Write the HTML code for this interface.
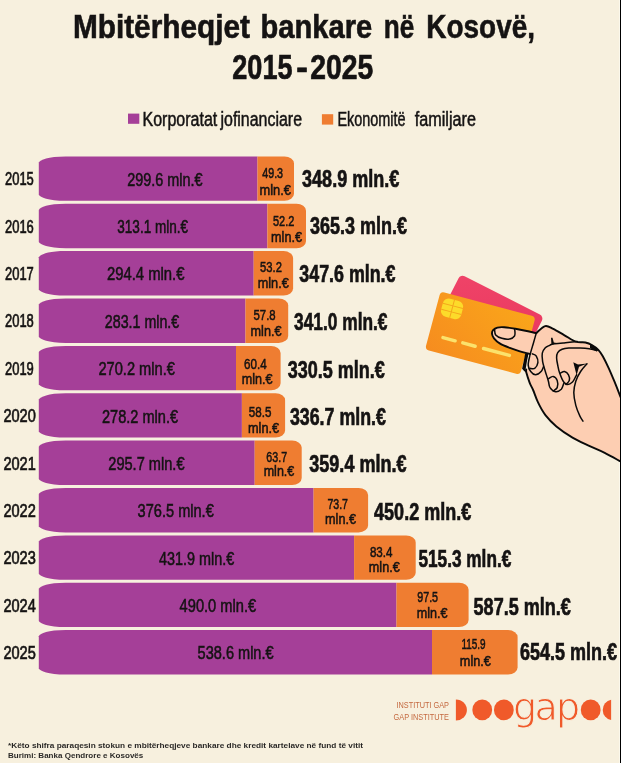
<!DOCTYPE html>
<html lang="sq"><head><meta charset="utf-8"><title>Mbitërheqjet bankare në Kosovë, 2015-2025</title>
<style>
html,body{margin:0;padding:0;background:#f7f0de;}
body{width:621px;height:763px;overflow:hidden;}
svg{display:block;}
text{font-family:"Liberation Sans",sans-serif;fill:#151313;}
.b{font-weight:700;}
</style></head><body>
<svg width="621" height="763" viewBox="0 0 621 763">
<defs>
<linearGradient id="gO" x1="0" y1="1" x2="1" y2="0"><stop offset="0" stop-color="#f68c1f"/><stop offset="1" stop-color="#faa61a"/></linearGradient>
<linearGradient id="gP" x1="0" y1="0" x2="1" y2="1"><stop offset="0" stop-color="#ef4368"/><stop offset="1" stop-color="#e8355c"/></linearGradient>
</defs>
<rect width="621" height="763" fill="#f7f0de"/>

<text class="b" y="38.4" font-size="32.4" stroke="#151313" stroke-width="0.6"><tspan x="72.9" textLength="177.1" lengthAdjust="spacingAndGlyphs">Mbitërheqjet</tspan> <tspan x="260.6" textLength="111.6" lengthAdjust="spacingAndGlyphs">bankare</tspan> <tspan x="383.8" textLength="30.5" lengthAdjust="spacingAndGlyphs">në</tspan> <tspan x="426.3" textLength="108.7" lengthAdjust="spacingAndGlyphs">Kosovë,</tspan></text>
<text class="b" y="78.8" font-size="34.8" stroke="#151313" stroke-width="0.7"><tspan x="232.3" textLength="60.2" lengthAdjust="spacingAndGlyphs">2015</tspan><tspan x="296.3">-</tspan><tspan x="310.3" textLength="63" lengthAdjust="spacingAndGlyphs">2025</tspan></text>
<rect x="128" y="113.6" width="11.3" height="10.2" fill="#a53f98"/>
<text y="126.4" font-size="19.5" stroke="#151313" stroke-width="0.5"><tspan x="142.5" textLength="74.8" lengthAdjust="spacingAndGlyphs">Korporatat</tspan> <tspan x="220.5" textLength="81.5" lengthAdjust="spacingAndGlyphs">jofinanciare</tspan></text>
<rect x="321.9" y="114.2" width="11.3" height="10.4" fill="#ef7d31"/>
<text y="126.4" font-size="19.5" stroke="#151313" stroke-width="0.5"><tspan x="337.4" textLength="68.2" lengthAdjust="spacingAndGlyphs">Ekonomitë</tspan> <tspan x="414.7" textLength="61.2" lengthAdjust="spacingAndGlyphs">familjare</tspan></text>
<path d="M257.5 156.4H65.7C47.8 156.4 40.3 160.0 38.8 162.5V194.7C40.3 197.2 47.8 200.8 65.7 200.8H257.5Z" fill="#a53f98"/>
<path d="M257.5 156.4H284.5A9.5 7 0 0 1 294.0 163.4V193.8A9.5 7 0 0 1 284.5 200.8H257.5Z" fill="#ef7d31"/>
<text x="5.0" y="185.3" font-size="18.8" textLength="28.8" lengthAdjust="spacingAndGlyphs" stroke="#151313" stroke-width="0.7">2015</text>
<text x="127.2" y="185.7" font-size="18.5" textLength="75.4" lengthAdjust="spacingAndGlyphs" stroke="#151313" stroke-width="0.55">299.6 mln.€</text>
<text x="262.2" y="178.2" font-size="15.2" textLength="20.9" lengthAdjust="spacingAndGlyphs" stroke="#151313" stroke-width="0.55">49.3</text>
<text x="259.5" y="195.0" font-size="15.2" textLength="31.4" lengthAdjust="spacingAndGlyphs" stroke="#151313" stroke-width="0.55">mln.€</text>
<text class="b" x="302.0" y="186.6" font-size="24.4" textLength="97.4" lengthAdjust="spacingAndGlyphs" stroke="#151313" stroke-width="0.7">348.9 mln.€</text>
<path d="M267.4 203.8H65.7C47.8 203.8 40.3 207.4 38.8 209.9V242.1C40.3 244.6 47.8 248.2 65.7 248.2H267.4Z" fill="#a53f98"/>
<path d="M267.4 203.8H296.5A9.5 7 0 0 1 306.0 210.8V241.2A9.5 7 0 0 1 296.5 248.2H267.4Z" fill="#ef7d31"/>
<text x="5.0" y="232.7" font-size="18.8" textLength="28.8" lengthAdjust="spacingAndGlyphs" stroke="#151313" stroke-width="0.7">2016</text>
<text x="117.3" y="233.1" font-size="18.5" textLength="70.8" lengthAdjust="spacingAndGlyphs" stroke="#151313" stroke-width="0.55">313.1 mln.€</text>
<text x="273.0" y="226.1" font-size="15.2" textLength="21.4" lengthAdjust="spacingAndGlyphs" stroke="#151313" stroke-width="0.55">52.2</text>
<text x="271.1" y="241.7" font-size="15.2" textLength="30.9" lengthAdjust="spacingAndGlyphs" stroke="#151313" stroke-width="0.55">mln.€</text>
<text class="b" x="310.1" y="234.1" font-size="24.4" textLength="96.8" lengthAdjust="spacingAndGlyphs" stroke="#151313" stroke-width="0.7">365.3 mln.€</text>
<path d="M253.7 251.1H65.7C47.8 251.1 40.3 254.7 38.8 257.2V289.4C40.3 291.9 47.8 295.5 65.7 295.5H253.7Z" fill="#a53f98"/>
<path d="M253.7 251.1H283.6A9.5 7 0 0 1 293.1 258.1V288.5A9.5 7 0 0 1 283.6 295.5H253.7Z" fill="#ef7d31"/>
<text x="5.0" y="280.0" font-size="18.8" textLength="28.8" lengthAdjust="spacingAndGlyphs" stroke="#151313" stroke-width="0.7">2017</text>
<text x="106.9" y="280.4" font-size="18.5" textLength="77.6" lengthAdjust="spacingAndGlyphs" stroke="#151313" stroke-width="0.55">294.4 mln.€</text>
<text x="260.1" y="272.2" font-size="15.2" textLength="21.8" lengthAdjust="spacingAndGlyphs" stroke="#151313" stroke-width="0.55">53.2</text>
<text x="257.7" y="287.9" font-size="15.2" textLength="31.1" lengthAdjust="spacingAndGlyphs" stroke="#151313" stroke-width="0.55">mln.€</text>
<text class="b" x="299.3" y="281.7" font-size="24.4" textLength="96.2" lengthAdjust="spacingAndGlyphs" stroke="#151313" stroke-width="0.7">347.6 mln.€</text>
<path d="M245.5 298.5H65.7C47.8 298.5 40.3 302.1 38.8 304.6V336.8C40.3 339.3 47.8 342.9 65.7 342.9H245.5Z" fill="#a53f98"/>
<path d="M245.5 298.5H278.7A9.5 7 0 0 1 288.2 305.5V335.9A9.5 7 0 0 1 278.7 342.9H245.5Z" fill="#ef7d31"/>
<text x="5.0" y="327.4" font-size="18.8" textLength="28.8" lengthAdjust="spacingAndGlyphs" stroke="#151313" stroke-width="0.7">2018</text>
<text x="104.8" y="327.8" font-size="18.5" textLength="74.4" lengthAdjust="spacingAndGlyphs" stroke="#151313" stroke-width="0.55">283.1 mln.€</text>
<text x="253.5" y="320.1" font-size="15.2" textLength="22.1" lengthAdjust="spacingAndGlyphs" stroke="#151313" stroke-width="0.55">57.8</text>
<text x="250.6" y="335.7" font-size="15.2" textLength="30.9" lengthAdjust="spacingAndGlyphs" stroke="#151313" stroke-width="0.55">mln.€</text>
<text class="b" x="294.1" y="329.7" font-size="24.4" textLength="93.4" lengthAdjust="spacingAndGlyphs" stroke="#151313" stroke-width="0.7">341.0 mln.€</text>
<path d="M236.0 345.9H65.7C47.8 345.9 40.3 349.5 38.8 352.0V384.2C40.3 386.7 47.8 390.3 65.7 390.3H236.0Z" fill="#a53f98"/>
<path d="M236.0 345.9H271.1A9.5 7 0 0 1 280.6 352.9V383.3A9.5 7 0 0 1 271.1 390.3H236.0Z" fill="#ef7d31"/>
<text x="5.0" y="374.8" font-size="18.8" textLength="28.8" lengthAdjust="spacingAndGlyphs" stroke="#151313" stroke-width="0.7">2019</text>
<text x="98.4" y="375.2" font-size="18.5" textLength="76.5" lengthAdjust="spacingAndGlyphs" stroke="#151313" stroke-width="0.55">270.2 mln.€</text>
<text x="244.1" y="368.7" font-size="15.2" textLength="22.6" lengthAdjust="spacingAndGlyphs" stroke="#151313" stroke-width="0.55">60.4</text>
<text x="241.7" y="383.8" font-size="15.2" textLength="30.8" lengthAdjust="spacingAndGlyphs" stroke="#151313" stroke-width="0.55">mln.€</text>
<text class="b" x="287.8" y="377.8" font-size="24.4" textLength="97.1" lengthAdjust="spacingAndGlyphs" stroke="#151313" stroke-width="0.7">330.5 mln.€</text>
<path d="M241.9 393.2H65.7C47.8 393.2 40.3 396.9 38.8 399.4V431.5C40.3 434.0 47.8 437.6 65.7 437.6H241.9Z" fill="#a53f98"/>
<path d="M241.9 393.2H275.6A9.5 7 0 0 1 285.1 400.2V430.6A9.5 7 0 0 1 275.6 437.6H241.9Z" fill="#ef7d31"/>
<text x="3.4" y="422.1" font-size="18.8" textLength="32.4" lengthAdjust="spacingAndGlyphs" stroke="#151313" stroke-width="0.7">2020</text>
<text x="102.0" y="422.5" font-size="18.5" textLength="76.1" lengthAdjust="spacingAndGlyphs" stroke="#151313" stroke-width="0.55">278.2 mln.€</text>
<text x="248.8" y="416.8" font-size="15.2" textLength="22.6" lengthAdjust="spacingAndGlyphs" stroke="#151313" stroke-width="0.55">58.5</text>
<text x="248.0" y="432.6" font-size="15.2" textLength="31.1" lengthAdjust="spacingAndGlyphs" stroke="#151313" stroke-width="0.55">mln.€</text>
<text class="b" x="289.9" y="424.8" font-size="24.4" textLength="96.0" lengthAdjust="spacingAndGlyphs" stroke="#151313" stroke-width="0.7">336.7 mln.€</text>
<path d="M254.7 440.6H65.7C47.8 440.6 40.3 444.2 38.8 446.7V478.9C40.3 481.4 47.8 485.0 65.7 485.0H254.7Z" fill="#a53f98"/>
<path d="M254.7 440.6H292.2A9.5 7 0 0 1 301.7 447.6V478.0A9.5 7 0 0 1 292.2 485.0H254.7Z" fill="#ef7d31"/>
<text x="3.4" y="469.5" font-size="18.8" textLength="32.4" lengthAdjust="spacingAndGlyphs" stroke="#151313" stroke-width="0.7">2021</text>
<text x="108.3" y="469.9" font-size="18.5" textLength="76.2" lengthAdjust="spacingAndGlyphs" stroke="#151313" stroke-width="0.55">295.7 mln.€</text>
<text x="266.3" y="461.7" font-size="15.2" textLength="20.8" lengthAdjust="spacingAndGlyphs" stroke="#151313" stroke-width="0.55">63.7</text>
<text x="263.7" y="476.2" font-size="15.2" textLength="30.6" lengthAdjust="spacingAndGlyphs" stroke="#151313" stroke-width="0.55">mln.€</text>
<text class="b" x="309.3" y="472.2" font-size="24.4" textLength="97.2" lengthAdjust="spacingAndGlyphs" stroke="#151313" stroke-width="0.7">359.4 mln.€</text>
<path d="M313.6 488.0H65.7C47.8 488.0 40.3 491.6 38.8 494.1V526.3C40.3 528.8 47.8 532.4 65.7 532.4H313.6Z" fill="#a53f98"/>
<path d="M313.6 488.0H358.6A9.5 7 0 0 1 368.1 495.0V525.4A9.5 7 0 0 1 358.6 532.4H313.6Z" fill="#ef7d31"/>
<text x="3.4" y="516.9" font-size="18.8" textLength="32.4" lengthAdjust="spacingAndGlyphs" stroke="#151313" stroke-width="0.7">2022</text>
<text x="137.6" y="517.3" font-size="18.5" textLength="76.2" lengthAdjust="spacingAndGlyphs" stroke="#151313" stroke-width="0.55">376.5 mln.€</text>
<text x="327.4" y="508.7" font-size="15.2" textLength="20.6" lengthAdjust="spacingAndGlyphs" stroke="#151313" stroke-width="0.55">73.7</text>
<text x="325.1" y="524.2" font-size="15.2" textLength="30.9" lengthAdjust="spacingAndGlyphs" stroke="#151313" stroke-width="0.55">mln.€</text>
<text class="b" x="374.1" y="519.6" font-size="24.4" textLength="97.1" lengthAdjust="spacingAndGlyphs" stroke="#151313" stroke-width="0.7">450.2 mln.€</text>
<path d="M354.1 535.4H65.7C47.8 535.4 40.3 539.0 38.8 541.5V573.7C40.3 576.2 47.8 579.8 65.7 579.8H354.1Z" fill="#a53f98"/>
<path d="M354.1 535.4H406.2A9.5 7 0 0 1 415.7 542.4V572.8A9.5 7 0 0 1 406.2 579.8H354.1Z" fill="#ef7d31"/>
<text x="3.4" y="564.3" font-size="18.8" textLength="32.4" lengthAdjust="spacingAndGlyphs" stroke="#151313" stroke-width="0.7">2023</text>
<text x="159.0" y="564.7" font-size="18.5" textLength="75.3" lengthAdjust="spacingAndGlyphs" stroke="#151313" stroke-width="0.55">431.9 mln.€</text>
<text x="369.9" y="556.7" font-size="15.2" textLength="22.6" lengthAdjust="spacingAndGlyphs" stroke="#151313" stroke-width="0.55">83.4</text>
<text x="368.8" y="571.8" font-size="15.2" textLength="30.9" lengthAdjust="spacingAndGlyphs" stroke="#151313" stroke-width="0.55">mln.€</text>
<text class="b" x="418.4" y="566.6" font-size="24.4" textLength="92.9" lengthAdjust="spacingAndGlyphs" stroke="#151313" stroke-width="0.7">515.3 mln.€</text>
<path d="M396.5 582.7H65.7C47.8 582.7 40.3 586.3 38.8 588.8V621.0C40.3 623.5 47.8 627.1 65.7 627.1H396.5Z" fill="#a53f98"/>
<path d="M396.5 582.7H459.1A9.5 7 0 0 1 468.6 589.7V620.1A9.5 7 0 0 1 459.1 627.1H396.5Z" fill="#ef7d31"/>
<text x="3.4" y="611.6" font-size="18.8" textLength="32.4" lengthAdjust="spacingAndGlyphs" stroke="#151313" stroke-width="0.7">2024</text>
<text x="179.6" y="612.0" font-size="18.5" textLength="76.6" lengthAdjust="spacingAndGlyphs" stroke="#151313" stroke-width="0.55">490.0 mln.€</text>
<text x="417.2" y="601.6" font-size="15.2" textLength="20.9" lengthAdjust="spacingAndGlyphs" stroke="#151313" stroke-width="0.55">97.5</text>
<text x="416.7" y="618.2" font-size="15.2" textLength="30.8" lengthAdjust="spacingAndGlyphs" stroke="#151313" stroke-width="0.55">mln.€</text>
<text class="b" x="473.6" y="614.5" font-size="24.4" textLength="97.2" lengthAdjust="spacingAndGlyphs" stroke="#151313" stroke-width="0.7">587.5 mln.€</text>
<path d="M432.0 630.1H65.7C47.8 630.1 40.3 633.7 38.8 636.2V668.4C40.3 670.9 47.8 674.5 65.7 674.5H432.0Z" fill="#a53f98"/>
<path d="M432.0 630.1H508.1A9.5 7 0 0 1 517.6 637.1V667.5A9.5 7 0 0 1 508.1 674.5H432.0Z" fill="#ef7d31"/>
<text x="3.4" y="659.0" font-size="18.8" textLength="32.4" lengthAdjust="spacingAndGlyphs" stroke="#151313" stroke-width="0.7">2025</text>
<text x="197.6" y="659.4" font-size="18.5" textLength="76.0" lengthAdjust="spacingAndGlyphs" stroke="#151313" stroke-width="0.55">538.6 mln.€</text>
<text x="461.4" y="648.6" font-size="15.2" textLength="24.2" lengthAdjust="spacingAndGlyphs" stroke="#151313" stroke-width="0.55">115.9</text>
<text x="459.8" y="665.8" font-size="15.2" textLength="31.1" lengthAdjust="spacingAndGlyphs" stroke="#151313" stroke-width="0.55">mln.€</text>
<text class="b" x="519.9" y="660.3" font-size="24.4" textLength="97.1" lengthAdjust="spacingAndGlyphs" stroke="#151313" stroke-width="0.7">654.5 mln.€</text>
<rect x="619" y="0" width="1" height="763" fill="#fbf8ec"/>
<g transform="translate(460.6 274.2) rotate(27)"><rect width="93.5" height="58" rx="4.5" fill="url(#gP)"/></g>
<g transform="translate(440.6 291.4) rotate(15)"><rect width="98.3" height="60" rx="4" fill="url(#gO)"/><rect x="5.2" y="4.6" width="20.8" height="18.6" rx="6" fill="#fcdb2a"/><path d="M15.6 4.6V23.2M5.2 10.8H15.6M5.2 17H15.6M15.6 10.8H26M15.6 17H26" stroke="#f4a51c" stroke-width="1" fill="none"/><path d="M14.3 44H26.8M34.8 44H47.5M56.3 44H83" stroke="#fbe26c" stroke-width="3.5" stroke-linecap="round" fill="none"/></g>
<path d="M525.2 353.5 L528.6 353.3 L526.9 361.4 L525.6 369.5 L526.9 373.3 L524.1 371 L522.1 368.7 L523.9 360.3Z" fill="#0a0a0a"/>
<path d="M536.3 333.2C534.7 332.8 530.2 331.8 526.7 331.0C523.2 330.2 519.1 329.3 515.4 328.7C511.6 328.1 507.2 327.4 504.2 327.2C501.2 327.0 499.2 327.1 497.4 327.6C495.5 328.1 494.0 329.2 493.1 330.2C492.2 331.2 491.9 332.4 492.0 333.8C492.1 335.2 492.7 336.7 494.0 338.3C495.3 339.9 497.1 341.8 499.7 343.4C502.3 345.0 506.4 346.6 509.8 347.9C513.2 349.2 516.5 350.3 519.9 351.3C523.3 352.3 528.7 352.1 530.1 354.1C531.5 356.1 528.7 360.6 528.2 363.1C527.8 365.6 527.7 367.4 527.4 369.0C527.1 370.6 526.0 370.4 526.4 372.7C526.8 375.0 528.6 379.9 529.7 382.8C530.8 385.7 531.7 386.8 533.1 390.0C534.5 393.2 535.9 398.0 537.9 402.2C539.9 406.4 542.3 411.1 545.4 415.1C548.5 419.1 551.9 422.6 556.4 426.4C560.9 430.1 567.1 434.4 572.5 437.6C577.9 440.8 583.2 443.1 588.6 445.7C594.0 448.2 599.4 450.3 604.7 452.9C610.0 455.5 618.0 460.1 620.6 461.5L620.6 397.2C619.7 394.8 617.0 387.6 615.0 382.8C613.0 378.0 610.8 372.7 608.8 368.3C606.8 363.9 604.5 359.3 602.8 356.2C601.0 353.1 600.1 351.7 598.3 349.8C596.5 347.9 594.0 346.2 591.9 345.0C589.8 343.8 588.1 343.1 585.4 342.5C582.7 341.9 579.3 342.9 575.8 341.7C572.3 340.5 568.3 337.4 564.5 335.3C560.7 333.2 556.4 330.4 553.2 328.9C550.0 327.4 548.0 325.4 545.2 326.1C542.4 326.8 537.8 331.8 536.3 332.9Z" fill="#fdceb2"/>
<g fill="none" stroke="#0a0a0a" stroke-linecap="round" stroke-linejoin="round" stroke-width="1.9">
<path d="M536.3 333.2C534.7 332.8 530.2 331.8 526.7 331.0C523.2 330.2 519.1 329.3 515.4 328.7C511.6 328.1 507.2 327.4 504.2 327.2C501.2 327.0 499.2 327.1 497.4 327.6C495.5 328.1 494.0 329.2 493.1 330.2C492.2 331.2 491.9 332.4 492.0 333.8C492.1 335.2 492.7 336.7 494.0 338.3C495.3 339.9 497.1 341.8 499.7 343.4C502.3 345.0 506.4 346.6 509.8 347.9C513.2 349.2 516.5 350.3 519.9 351.3C523.3 352.3 528.4 353.6 530.1 354.1"/>
<path d="M536.3 332.9C537.8 331.8 542.4 326.8 545.2 326.1C548.0 325.4 550.0 327.4 553.2 328.9C556.4 330.4 560.7 333.2 564.5 335.3C568.3 337.4 572.3 340.5 575.8 341.7C579.3 342.9 582.7 341.9 585.4 342.5C588.1 343.1 589.8 343.8 591.9 345.0C594.0 346.2 596.5 347.9 598.3 349.8C600.1 351.7 601.0 353.1 602.8 356.2C604.5 359.3 606.8 363.9 608.8 368.3C610.8 372.7 613.0 378.0 615.0 382.8C617.0 387.6 619.7 394.8 620.6 397.2"/>
<path d="M526.2 369.5C526.2 370.0 525.8 370.5 526.4 372.7C527.0 374.9 528.6 379.9 529.7 382.8C530.8 385.7 531.7 386.8 533.1 390.0C534.5 393.2 535.9 398.0 537.9 402.2C539.9 406.4 542.3 411.1 545.4 415.1C548.5 419.1 551.9 422.6 556.4 426.4C560.9 430.1 567.1 434.4 572.5 437.6C577.9 440.8 583.2 443.1 588.6 445.7C594.0 448.2 599.4 450.3 604.7 452.9C610.0 455.5 618.0 460.1 620.6 461.5"/>
</g>
<g fill="none" stroke="#0a0a0a" stroke-linecap="round" stroke-linejoin="round" stroke-width="1.5">
<path d="M494.6 329.8C494.8 330.6 494.5 333.5 495.7 334.9C496.9 336.3 499.5 337.6 501.9 338.3C504.2 339.0 507.7 339.3 509.8 338.9C511.9 338.5 513.6 337.3 514.5 336.0C515.4 334.7 514.9 332.2 514.9 331.0C514.9 329.8 514.4 329.1 514.3 328.7"/>
<path d="M596.4 350.4C595.2 350.1 591.8 349.1 589.1 348.7C586.4 348.3 583.5 348.1 580.1 348.0C576.7 347.9 571.8 347.8 568.8 348.0C565.8 348.2 564.0 348.4 562.1 349.2C560.2 350.0 558.6 351.2 557.7 352.6C556.8 354.0 556.6 355.7 556.6 357.7C556.6 359.7 557.1 362.1 557.6 364.5C558.1 366.9 558.4 369.4 559.4 372.3C560.4 375.2 562.3 380.0 563.7 382.0C565.1 384.0 566.2 384.4 567.7 384.4C569.2 384.4 571.1 383.3 572.5 382.0C573.9 380.7 575.1 377.6 575.8 376.4C576.5 375.2 576.5 375.1 576.6 374.8"/>
<path d="M553.0 343.8C552.5 344.1 551.0 344.6 549.7 345.3C548.4 346.0 546.5 346.5 545.3 347.8C544.1 349.1 542.8 350.9 542.3 353.2C541.8 355.4 542.1 358.3 542.6 361.3C543.1 364.3 544.2 367.7 545.2 371.0C546.2 374.3 547.6 378.4 548.4 381.2C549.2 384.0 548.8 385.9 550.0 387.6C551.2 389.4 553.7 391.4 555.6 391.7C557.5 392.0 559.9 390.5 561.3 389.2C562.6 387.9 563.3 384.5 563.7 383.6"/>
<path d="M553.0 343.8C553.8 343.8 556.3 343.7 558.0 343.6C559.7 343.5 560.8 343.4 563.2 343.1C565.6 342.8 569.9 342.2 572.2 342.0C574.6 341.8 576.4 341.7 577.3 341.6"/>
<path d="M548.4 378.8C549.2 378.4 551.7 376.1 553.2 376.4C554.7 376.7 556.5 378.5 557.2 380.4C557.9 382.3 557.9 385.9 557.2 387.6C556.5 389.4 553.9 390.3 553.2 390.9"/>
<path d="M536.3 332.9C535.8 334.8 534.2 340.4 533.1 344.2C532.0 347.9 530.7 351.9 529.9 355.4C529.1 358.9 528.1 362.4 528.2 365.1C528.3 367.8 529.5 369.9 530.7 371.5C531.9 373.1 533.8 374.8 535.5 374.8C537.2 374.8 539.8 372.9 541.1 371.5C542.4 370.1 543.1 367.5 543.5 366.7"/>
<path d="M532.3 353.8C533.0 354.2 535.4 354.7 536.3 356.2C537.2 357.7 538.2 360.7 537.9 362.7C537.6 364.7 536.0 367.4 534.7 368.3C533.4 369.2 530.7 368.3 529.9 368.3"/>
<path d="M560.5 373.1C561.2 372.8 563.2 371.2 564.5 371.5C565.8 371.8 567.7 373.3 568.5 374.8C569.3 376.3 569.7 378.8 569.3 380.4C568.9 382.0 566.6 383.7 566.1 384.4"/>
<path d="M587.0 363.8C585.9 365.1 582.5 368.6 580.6 371.5C578.7 374.4 576.9 377.8 575.8 381.3C574.7 384.8 573.8 388.5 573.8 392.5C573.8 396.5 574.8 401.5 575.8 405.4C576.8 409.3 578.6 413.3 579.8 415.9C581.0 418.5 582.5 420.3 583.0 421.2"/>
</g>
<path d="M551.0 337.7L552.5 337.7L553.8 342.4L557.8 343.2L553 344.6L551.4 343.8Z" fill="#0a0a0a"/>
<path d="M573.3 362.2L576.6 375.2L579 366.7L587.2 363.6L578 364.5Z" fill="#0a0a0a"/>
<path d="M590 344.2L593.5 345.8L598.4 350.2L596.8 351.4L592 349.6L590 347.6Z" fill="#0a0a0a"/>
<path d="M455.9 699.4A11 10.55 0 0 1 455.9 720.5Z" fill="#f05a2a"/>
<ellipse cx="482.25" cy="709.9" rx="9.9" ry="10.3" fill="#f05a2a"/>
<ellipse cx="503.85" cy="709.9" rx="9.9" ry="10.3" fill="#f05a2a"/>
<ellipse cx="590.7" cy="709.9" rx="9.9" ry="10.3" fill="#f05a2a"/>
<path d="M611.1 699.7A10.4 10.4 0 0 0 611.1 720.1Z" fill="#f05a2a"/>
<text x="513 534.4 556" y="719.6" font-size="38" style="font-family:'DejaVu Sans','Liberation Sans',sans-serif;fill:#f05a2a;stroke:#f7f0de;stroke-width:1.0px;">gap</text>
<text x="396.5" y="707.9" font-size="8.7" textLength="52.5" lengthAdjust="spacingAndGlyphs" style="fill:#c4683f">INSTITUTI GAP</text>
<text x="393.6" y="719.6" font-size="8.7" textLength="55.4" lengthAdjust="spacingAndGlyphs" style="fill:#c4683f">GAP INSTITUTE</text>
<text x="8.0" y="748.2" font-size="8.0" textLength="355.0" lengthAdjust="spacingAndGlyphs" style="font-weight:700" fill-opacity="0.92">*Këto shifra paraqesin stokun e mbitërheqjeve bankare dhe kredit kartelave në fund të vitit</text>
<text x="8.0" y="758.4" font-size="8.0" textLength="135.3" lengthAdjust="spacingAndGlyphs" style="font-weight:700" fill-opacity="0.92">Burimi: Banka Qendrore e Kosovës</text>
<rect x="620" y="0" width="1" height="763" fill="#000"/>
</svg></body></html>
